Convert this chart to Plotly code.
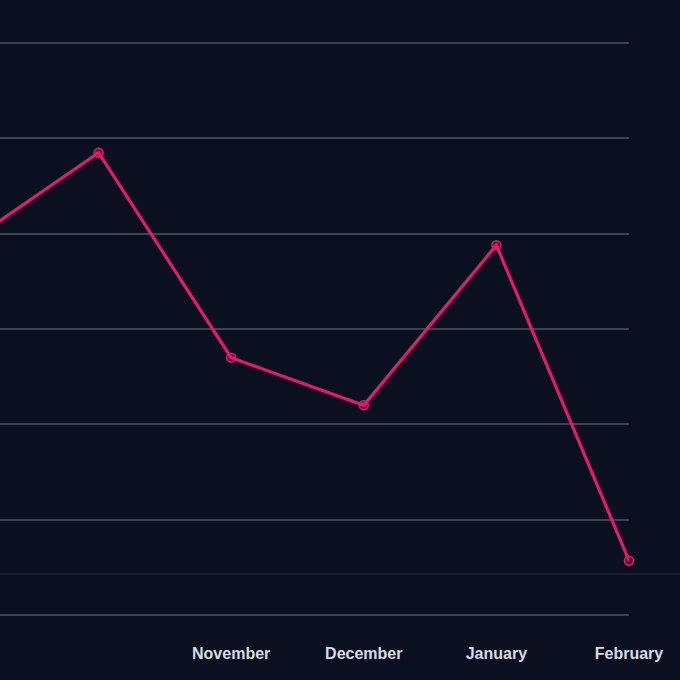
import plotly.graph_objects as go

months = ["September", "October", "November", "December", "January", "February"]
values = [38.9, 48.5, 27.0, 22.0, 38.8, 5.7]
labelled_months = ["November", "December", "January", "February"]
grid_ticks = [0, 10, 20, 30, 40, 50, 60]
ref_level = [4.3]

fig = go.Figure()
fig.add_trace(go.Scatter(
    x=months, y=values, mode="lines+markers",
    line=dict(color="#e8196b", width=3.2),
    marker=dict(size=9, color="rgba(232,25,107,0.35)", line=dict(color="#e8196b", width=1.5)),
    cliponaxis=False, hoverinfo="skip", showlegend=False,
))

for lv in ref_level:
    fig.add_shape(type="line", xref="paper", yref="y", x0=0, x1=1.2, y0=lv, y1=lv,
                  line=dict(color="#2a3042", width=1), layer="below")

fig.update_layout(
    width=680, height=680,
    margin=dict(l=0, r=51, t=0, b=40),
    paper_bgcolor="#0b1020", plot_bgcolor="#0b1020",
    font=dict(family="Liberation Sans, Arial, sans-serif"),
    xaxis=dict(
        type="category", categoryorder="array", categoryarray=months,
        range=[0.257, 5.0], tickmode="array",
        tickvals=labelled_months, ticktext=[f"<b>{m}</b>" for m in labelled_months],
        tickfont=dict(size=16, color="#d8dce4"), ticklabelstandoff=2,
        showgrid=False, zeroline=False, showline=False, ticks="",
    ),
    yaxis=dict(
        range=[-2.62, 64.52], tickmode="array", tickvals=grid_ticks,
        showticklabels=False, showgrid=True, gridcolor="#3c4254", gridwidth=1.5,
        zeroline=False, showline=False, ticks="",
    ),
)

fig.write_html(
    "out.html",
    config={"displayModeBar": False},
    post_script="document.body.style.margin='0';document.body.style.background='#0b1020';",
)
